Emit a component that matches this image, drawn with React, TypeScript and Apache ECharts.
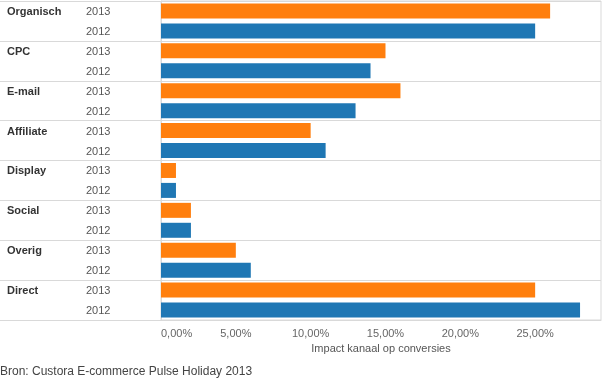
import React, { useEffect, useRef } from "react";
import * as echarts from "echarts";

const channels = ["Organisch", "CPC", "E-mail", "Affiliate", "Display", "Social", "Overig", "Direct"];
const years = ["2013", "2012"];
const values2013 = [26, 15, 16, 10, 1, 2, 5, 25];
const values2012 = [25, 14, 13, 11, 1, 2, 6, 28];
const xTicks = [0, 5, 10, 15, 20, 25];
const colors: Record<string, string> = { "2013": "#ff7f0e", "2012": "#1f77b4" };

export default function App() {
  const ref = useRef<HTMLDivElement>(null);
  useEffect(() => {
    if (!ref.current) return;
    const chart = echarts.init(ref.current, null, { renderer: "svg" });
    const rows: string[] = [];
    const rowChannel: string[] = [];
    const rowYear: string[] = [];
    const data: any[] = [];
    channels.forEach((c, i) => {
      years.forEach((y) => {
        rows.push(c + "|" + y);
        rowChannel.push(c);
        rowYear.push(y);
        const v = y === "2013" ? values2013[i] : values2012[i];
        data.push({ value: v, itemStyle: { color: colors[y] } });
      });
    });
    const lineColor = "#d9d9d9";
    const groupBoundary = (i: number) => i % 2 === 0;
    chart.setOption({
      animation: false,
      grid: {
        left: 161,
        right: 0,
        top: 1,
        bottom: 60,
        show: true,
        borderColor: lineColor,
        borderWidth: 1,
      },
      xAxis: {
        type: "value",
        min: 0,
        max: 29.4,
        interval: 5,
        splitLine: { show: false },
        axisLine: { show: true, lineStyle: { color: lineColor } },
        axisTick: { show: false },
        axisLabel: {
          color: "#666",
          fontFamily: "Liberation Sans, Arial, sans-serif",
          fontSize: 11,
          margin: 7,
          alignMinLabel: "left",
          formatter: (v: number) =>
            xTicks.includes(v) ? v.toFixed(2).replace(".", ",") + "%" : "",
        },
        name: "Impact kanaal op conversies",
        nameLocation: "middle",
        nameGap: 21,
        nameTextStyle: {
          color: "#555",
          fontFamily: "Liberation Sans, Arial, sans-serif",
          fontSize: 11,
        },
      },
      yAxis: [
        {
          type: "category",
          data: rows,
          inverse: true,
          position: "left",
          axisLine: { show: true, lineStyle: { color: lineColor } },
          axisTick: {
            show: true,
            length: 161,
            interval: groupBoundary,
            lineStyle: { color: lineColor },
          },
          splitLine: {
            show: true,
            interval: groupBoundary,
            lineStyle: { color: lineColor },
          },
          axisLabel: {
            interval: 0,
            align: "left",
            margin: 75,
            color: "#555",
            fontFamily: "Liberation Sans, Arial, sans-serif",
            fontSize: 11,
            formatter: (_v: string, i: number) => rowYear[i],
          },
        },
        {
          type: "category",
          data: rows,
          inverse: true,
          position: "left",
          axisLine: { show: false },
          axisTick: { show: false },
          splitLine: { show: false },
          axisLabel: {
            interval: 0,
            align: "left",
            margin: 154,
            color: "#333",
            fontWeight: "bold",
            fontFamily: "Liberation Sans, Arial, sans-serif",
            fontSize: 11,
            formatter: (_v: string, i: number) => (i % 2 === 0 ? rowChannel[i] : ""),
          },
        },
      ],
      series: [
        {
          type: "bar",
          yAxisIndex: 0,
          barWidth: 15,
          data,
        },
      ],
      graphic: [
        {
          type: "text",
          left: 0,
          top: 365,
          style: {
            text: "Bron: Custora E-commerce Pulse Holiday 2013",
            fill: "#444",
            font: "12px 'Liberation Sans', Arial, sans-serif",
          },
        },
      ],
    });
    return () => chart.dispose();
  }, []);
  return (
    <div
      ref={ref}
      style={{ position: "fixed", left: 0, top: 0, width: 604, height: 380 }}
    />
  );
}
